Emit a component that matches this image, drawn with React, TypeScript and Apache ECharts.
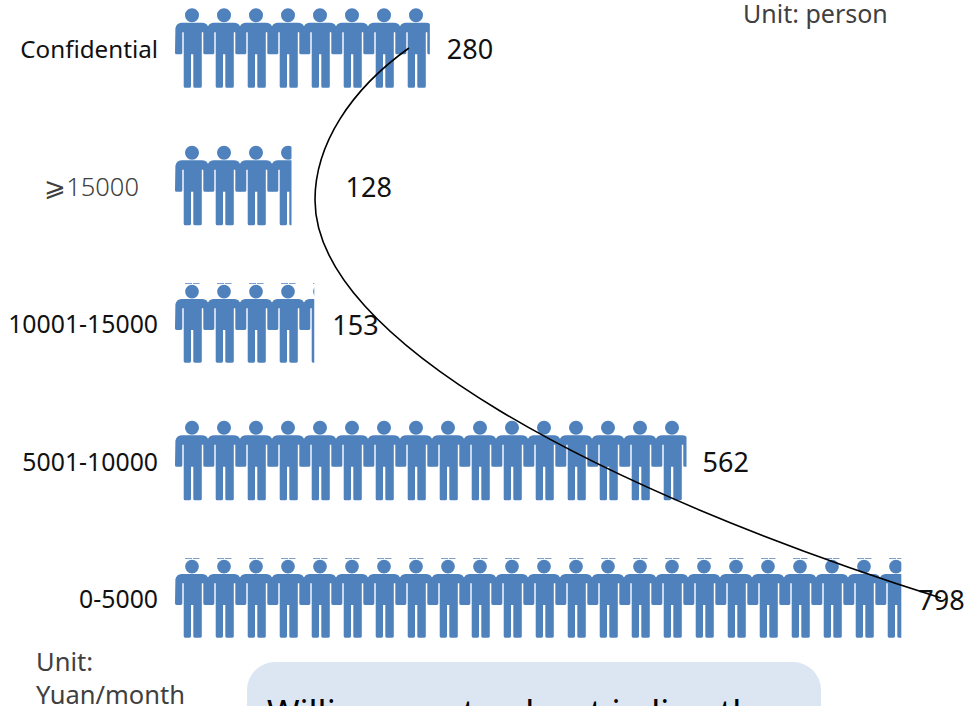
import React, { useEffect, useRef } from "react";
import * as echarts from "echarts";

// Monthly income bands, top row first, and the headcount in each band.
const incomeBands = ["Confidential", "⩾15000", "10001-15000", "5001-10000", "0-5000"];
const headcounts = [280, 128, 153, 562, 798];
const bandsWithDashes = [false, false, true, false, true];
const valueLabelGaps = [17, 54, 18, 16, 17];

const personsOnAxis = 24;
const axisMax = 846;

const FONT = '"Noto Sans", "Noto Sans CJK SC", sans-serif';
const BLUE = "#4f81bd";
const SYMBOL_H = 79.5;

// Figure outline in a 34 x 79.5 box; top > 0 squeezes it down to leave room above the head.
function personPath(top: number): string {
  const k = (SYMBOL_H - top) / SYMBOL_H;
  const y = (v: number) => (top + v * k).toFixed(2);
  const r = 7 * k;
  const head = `M17 ${y(0)} A${r} ${r} 0 0 1 17 ${y(14)} A${r} ${r} 0 0 1 17 ${y(0)} Z`;
  const body =
    `M6.5 ${y(14.6)} L27.5 ${y(14.6)} Q32.6 ${y(15)} 33.6 ${y(20)} L34 ${y(44.5)} Q34 ${y(46)} 32.5 ${y(46)} ` +
    `L29.8 ${y(46)} Q28.3 ${y(46)} 28.3 ${y(44.5)} L28.3 ${y(24)} L26.8 ${y(24)} L26.8 ${y(78)} Q26.8 ${y(79.5)} 25.3 ${y(79.5)} ` +
    `L19.8 ${y(79.5)} Q18.3 ${y(79.5)} 18.3 ${y(78)} L18.3 ${y(46)} L16 ${y(46)} L16 ${y(78)} Q16 ${y(79.5)} 14.5 ${y(79.5)} ` +
    `L10.2 ${y(79.5)} Q8.7 ${y(79.5)} 8.7 ${y(78)} L8.7 ${y(24)} L7.3 ${y(24)} L7.3 ${y(44.5)} Q7.3 ${y(46)} 5.8 ${y(46)} ` +
    `L1.5 ${y(46)} Q0 ${y(46)} 0 ${y(44.5)} L0.4 ${y(20)} Q1.4 ${y(15)} 6.5 ${y(14.6)} Z`;
  return head + " " + body;
}

const plainPerson = "path://" + personPath(0);
const dashedPerson =
  "path://" +
  "M10 0 L17 0 L17 0.7 L10 0.7 Z M18 0 L24.5 0 L24.5 0.7 L18 0.7 Z " +
  personPath(1.5);

export default function App() {
  const ref = useRef<HTMLDivElement>(null);

  useEffect(() => {
    const chart = echarts.init(ref.current!, null, { renderer: "svg" });

    chart.setOption({
      animation: false,
      backgroundColor: "#ffffff",
      grid: { left: 175, top: 48, width: 770, height: 550, containLabel: false },
      xAxis: { type: "value", min: 0, max: axisMax, show: false },
      yAxis: {
        type: "category",
        inverse: true,
        boundaryGap: false,
        data: incomeBands.map((name, i) => {
          if (i === 1) {
            return {
              value: name,
              textStyle: { color: "#404040", padding: [0, 19, 0, 0], fontSize: 25.5, fontWeight: 300 },
            };
          }
          return { value: name, textStyle: { fontSize: i === 0 ? 24.2 : 24.8 } };
        }),
        axisLine: { show: false },
        axisTick: { show: false },
        axisLabel: {
          margin: 17,
          fontSize: 24.5,
          color: "#111111",
          fontFamily: FONT,
          // A short line box sitting on the tick lifts the label slightly above the row's centre.
          verticalAlign: "bottom",
          lineHeight: 3,
        },
      },
      series: [
        {
          type: "pictorialBar",
          barWidth: 80,
          symbolRepeat: personsOnAxis,
          symbolClip: true,
          symbolBoundingData: axisMax,
          symbolSize: [34, SYMBOL_H],
          symbolPosition: "start",
          itemStyle: { color: BLUE },
          data: headcounts.map((value, i) => ({
            value,
            symbol: bandsWithDashes[i] ? dashedPerson : plainPerson,
          })),
          z: 2,
        },
        {
          // Transparent bars carry the value labels at the true end of each row.
          type: "bar",
          barWidth: 80,
          barGap: "-100%",
          silent: true,
          itemStyle: { color: "rgba(0,0,0,0)" },
          data: headcounts.map((value, i) => ({
            value,
            label: {
              show: true,
              position: "right",
              distance: valueLabelGaps[i],
              offset: [0, i === 0 ? 0 : 1],
              fontSize: 27,
              color: "#111111",
              fontFamily: FONT,
            },
          })),
          z: 3,
        },
      ],
      graphic: [
        {
          type: "bezierCurve",
          z: 5,
          shape: { x1: 409, y1: 48, cpx1: 350, cpy1: 90, cpx2: 315, cpy2: 145, x2: 315, y2: 200 },
          style: { stroke: "#000000", lineWidth: 1.6, fill: "none" },
        },
        {
          type: "bezierCurve",
          z: 5,
          shape: { x1: 315, y1: 200, cpx1: 315, cpy1: 340, cpx2: 600, cpy2: 490, x2: 941, y2: 598 },
          style: { stroke: "#000000", lineWidth: 1.6, fill: "none" },
        },
        {
          type: "text",
          x: 743,
          y: 13,
          style: { text: "Unit: person", fontSize: 25, fill: "#404040", fontFamily: FONT, verticalAlign: "middle" },
        },
        {
          type: "text",
          x: 36,
          y: 661,
          style: { text: "Unit:", fontSize: 25.5, fill: "#404040", fontFamily: FONT, verticalAlign: "middle" },
        },
        {
          type: "text",
          x: 36,
          y: 694,
          style: { text: "Yuan/month", fontSize: 25.5, fill: "#404040", fontFamily: FONT, verticalAlign: "middle" },
        },
        {
          type: "rect",
          shape: { x: 247, y: 662, width: 574, height: 120, r: 28 },
          style: { fill: "#dce6f2" },
        },
        {
          type: "text",
          x: 267,
          y: 694,
          style: {
            text: "Willingness to about in line the",
            fontSize: 35,
            fill: "#000000",
            fontFamily: FONT,
            verticalAlign: "top",
          },
        },
      ],
    });

    return () => chart.dispose();
  }, []);

  return <div ref={ref} style={{ position: "absolute", left: 0, top: 0, width: 967, height: 706 }} />;
}
